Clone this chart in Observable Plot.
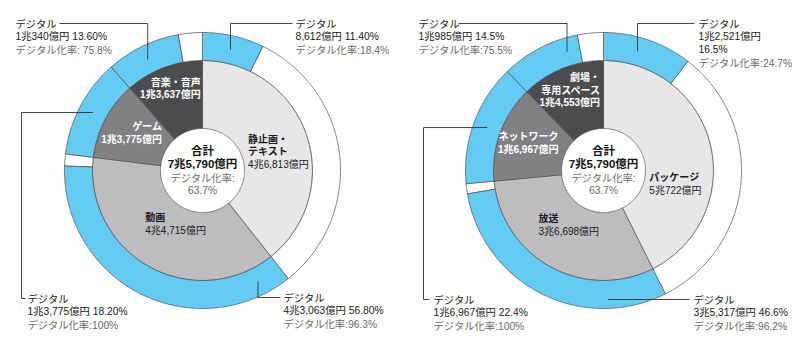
<!DOCTYPE html>
<html><head><meta charset="utf-8">
<script src="https://cdn.jsdelivr.net/npm/d3@7"></script>
<script src="https://cdn.jsdelivr.net/npm/@observablehq/plot@0.6"></script>
<style>html,body{margin:0;padding:0;background:#fff;}</style>
</head><body><div id="chart"></div>
<script>
// ---- data (億円) ----
const leftCategories = ["静止画・\nテキスト", "動画", "ゲーム", "音楽・音声"];
const leftMarket = [46813, 44715, 13775, 13637];
const leftDigital = [8612, 43063, 13775, 10340];
const leftShareLabels = ["11.40%", "56.80%", "18.20%", "13.60%"];
const leftRateLabels = ["デジタル化率:18.4%", "デジタル化率:96.3%", "デジタル化率:100%", "デジタル化率: 75.8%"];

const rightCategories = ["パッケージ", "放送", "ネットワーク", "劇場・\n専用スペース"];
const rightMarket = [50722, 36698, 16967, 14553];
const rightDigital = [12521, 35317, 16967, 10985];
const rightShareLabels = ["16.5%", "46.6%", "22.4%", "14.5%"];
const rightRateLabels = ["デジタル化率:24.7%", "デジタル化率:96.2%", "デジタル化率:100%", "デジタル化率:75.5%"];

const totalTitle = "合計";
const totalRateTitle = "デジタル化率:";
const totalRateLabel = "63.7%";
const digitalTitle = "デジタル";

// ---- styles / layout ----
const catColors = ["#e7e7e9", "#bdbdbf", "#818184", "#4c4c4e"];
const catTextColors = ["#1a1a1a", "#1a1a1a", "#ffffff", "#ffffff"];
const BLUE = "#64ccf4";
const R_OUT = 138, R_MID = 110, R_IN = 42;
const FONT = "'Liberation Sans', 'Noto Sans CJK JP', sans-serif";

const layouts = [
  {cx: 202, cy: 170, labelR: [79, 59, 81, 89], labelDA: [5, -3, 0, -1],
   callouts: [
     {frac: 0.5, r: 124, tx: 295, ty: 23, kind: "elbow", end: 292},
     {frac: 0.09, r: 124, tx: 283, ty: 297, kind: "elbow", end: 280},
     {frac: 0.5, r: 124, tx: 27, ty: 298, kind: "side", sideX: 21, end: 25},
     {frac: 0.48, r: 124, tx: 15, ty: 23, kind: "elbow", end: 59}
   ]},
  {cx: 603, cy: 170, labelR: [78, 64, 81, 88], labelDA: [23, 3, 0, -1],
   callouts: [
     {frac: 0.42, r: 124, tx: 698, ty: 23, kind: "elbow", end: 694, split: true},
     {frac: 0.23, r: 129, tx: 693, ty: 299, kind: "elbow", end: 689},
     {frac: 0.5, r: 124, tx: 433, ty: 299, kind: "side", sideX: 423, end: 429},
     {frac: 0.81, r: 124, tx: 418, ty: 23, kind: "elbow", end: 458}
   ]}
];

const donutData = [
  {cats: leftCategories, market: leftMarket, digital: leftDigital, share: leftShareLabels, rate: leftRateLabels},
  {cats: rightCategories, market: rightMarket, digital: rightDigital, share: rightShareLabels, rate: rightRateLabels}
];

const fmt = d3.format(",");
function yen(v) {
  const cho = Math.floor(v / 10000), rest = v % 10000;
  return cho ? `${cho}兆${fmt(rest)}億円` : `${fmt(rest)}億円`;
}

const polys = [], leaders = [], blocks = [];
let pid = 0;
function sector(cx, cy, r0, r1, a0, a1, fill) {
  const id = pid++;
  const n = Math.max(2, Math.ceil((a1 - a0) / (Math.PI / 360)));
  for (let i = 0; i <= n; i++) { const a = a0 + (a1 - a0) * i / n; polys.push({x: cx + r1 * Math.sin(a), y: cy - r1 * Math.cos(a), id, fill}); }
  for (let i = n; i >= 0; i--) { const a = a0 + (a1 - a0) * i / n; polys.push({x: cx + r0 * Math.sin(a), y: cy - r0 * Math.cos(a), id, fill}); }
}
// a block of lines sharing one style, first line centred at yFirst
function addBlock(x, yFirst, lines, lh, style) {
  blocks.push({x, y: yFirst + (lines.length - 1) * lh / 2, text: lines.join("\n"), lh, ...style});
}

donutData.forEach((d, k) => {
  const L = layouts[k];
  const {cx, cy} = L;
  const total = d3.sum(d.market);
  const digitalTotal = d3.sum(d.digital);
  let acc = 0;
  d.market.forEach((m, i) => {
    const a0 = acc / total * 2 * Math.PI; acc += m;
    const a1 = acc / total * 2 * Math.PI;
    const ad = a0 + (a1 - a0) * d.digital[i] / m;
    sector(cx, cy, R_IN, R_MID, a0, a1, catColors[i]);
    sector(cx, cy, R_MID, R_OUT, a0, ad, BLUE);
    if (a1 - ad > 1e-6) sector(cx, cy, R_MID, R_OUT, ad, a1, "#ffffff");

    // inner label
    const mid = (a0 + a1) / 2 + L.labelDA[i] * Math.PI / 180;
    const px = cx + L.labelR[i] * Math.sin(mid), py = cy - L.labelR[i] * Math.cos(mid);
    const anchor = i < 2 ? "start" : "end";
    const x = anchor === "start" ? px - 31 : px + 31;
    const names = d.cats[i].split("\n");
    const lh = 12.6, n = names.length + 1, y0 = py - (n - 1) * lh / 2;
    const st = {fill: catTextColors[i], size: 10, anchor};
    if (i < 2) {
      addBlock(x, y0, names, lh, {...st, weight: "bold"});
      addBlock(x, y0 + names.length * lh, [yen(m)], lh, {...st, weight: "normal"});
    } else {
      addBlock(x, y0, [...names, yen(m)], lh, {...st, weight: "bold"});
    }

    // callout
    const c = L.callouts[i];
    const ang = a0 + (ad - a0) * c.frac;
    const P = {x: cx + c.r * Math.sin(ang), y: cy - c.r * Math.cos(ang)};
    const path = c.kind === "side"
      ? [P, {x: c.sideX, y: P.y}, {x: c.sideX, y: c.ty}, {x: c.end, y: c.ty}]
      : [P, {x: P.x, y: c.ty}, {x: c.end, y: c.ty}];
    path.forEach(p => leaders.push({...p, id: `${k}-${i}`}));
    const head = c.split ? [digitalTitle, yen(d.digital[i]), d.share[i]] : [digitalTitle, `${yen(d.digital[i])} ${d.share[i]}`];
    const clh = 12.8;
    addBlock(c.tx, c.ty, head, clh, {fill: "#1a1a1a", size: 10.3, weight: "normal", anchor: "start"});
    addBlock(c.tx, c.ty + head.length * clh + 0.5, [d.rate[i]], clh, {fill: "#6a6a6a", size: 10.3, weight: "normal", anchor: "start"});
  });

  // center
  addBlock(cx, cy - 19.5, [totalTitle, yen(digitalTotal)], 13, {fill: "#111", size: 11.5, weight: "bold", anchor: "middle"});
  addBlock(cx, cy + 7, [totalRateTitle, totalRateLabel], 12.5, {fill: "#6a6a6a", size: 10.3, weight: "normal", anchor: "middle"});
});

const textMarks = blocks.map(b => Plot.text([b], {
  x: "x", y: "y", text: "text", fill: b.fill, fontSize: b.size, fontWeight: b.weight,
  textAnchor: b.anchor, lineAnchor: "middle", lineHeight: b.lh / b.size
}));

const chart = Plot.plot({
  width: 800, height: 355, margin: 0,
  x: {domain: [0, 800], range: [0, 800], axis: null},
  y: {domain: [0, 355], range: [0, 355], axis: null},
  color: {type: "identity"},
  style: {fontFamily: FONT, background: "#fff", overflow: "visible"},
  marks: [
    Plot.line(polys, {x: "x", y: "y", z: "id", fill: "fill", stroke: "#4a4a4a", strokeWidth: 0.7, curve: "linear-closed"}),
    Plot.line(leaders, {x: "x", y: "y", z: "id", stroke: "#333", strokeWidth: 0.9, strokeLinecap: "butt", strokeLinejoin: "miter"}),
    ...textMarks
  ]
});
document.getElementById("chart").append(chart);
</script>
</body></html>
